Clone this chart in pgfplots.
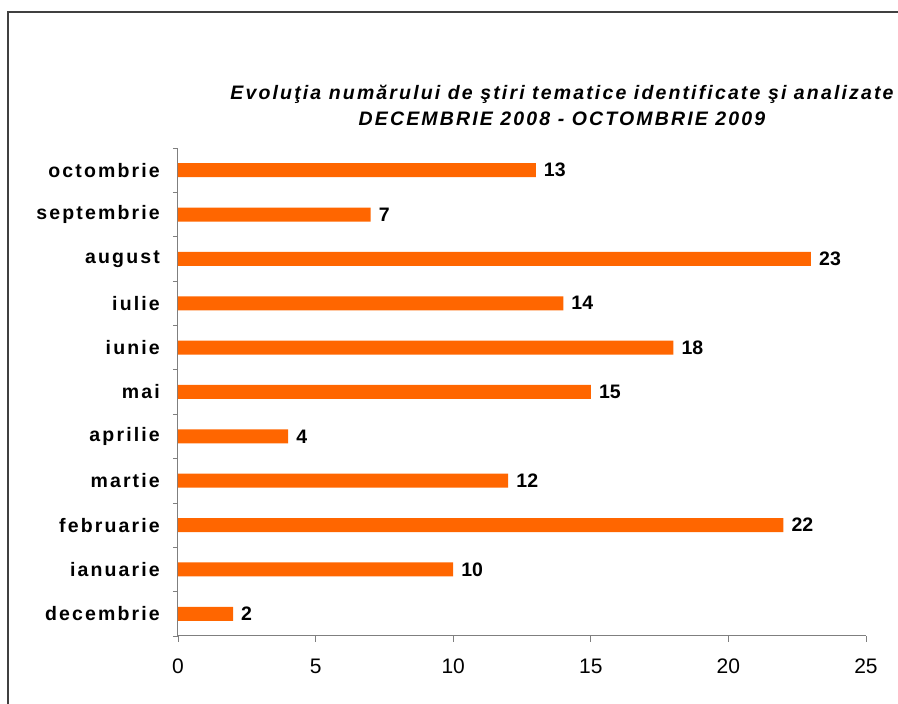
\documentclass[border=0pt]{standalone}
\usepackage{fontspec}
\setmainfont{Liberation Sans}
\newfontfamily\lsp[LetterSpace=11]{Liberation Sans}
\newfontfamily\lspt[LetterSpace=11]{Liberation Sans}
\usepackage{pgfplots}
\pgfplotsset{compat=1.18}
\definecolor{barorange}{HTML}{FF6600}
\definecolor{axgray}{HTML}{7F7F7F}
\begin{document}
\begin{tikzpicture}[x=1pt,y=1pt]
\useasboundingbox (0,0) rectangle (898,704);
\draw[line width=1.5pt, black!75] (8,-5) -- (8,692) -- (905,692);
\node[align=center, font=\lspt\bfseries\itshape\fontsize{19.5}{26}\selectfont] at (562,599) {Evoluţia numărului de ştiri tematice identificate şi analizate\\DECEMBRIE 2008 - OCTOMBRIE 2009};
\begin{axis}[at={(178pt,68pt)}, anchor=south west, scale only axis,
  width=688pt, height=488pt,
  xmin=0, xmax=25, ymin=-0.5, ymax=10.5,
  axis x line*=bottom, axis y line*=left,
  axis line style={-, axgray, line width=1pt},
  xbar, bar width=14pt,
  xtick={0,5,...,25},
  ytick={0,...,10},
  yticklabels={decembrie,ianuarie,februarie,martie,aprilie,mai,iunie,iulie,august,septembrie,octombrie},
  minor ytick={-0.5,0.5,...,10.5},
  tick align=outside,
  major tick length=6pt, minor tick length=5pt,
  ytick style={draw=none},
  minor y tick style={draw=axgray, line width=0.8pt},
  xtick style={axgray, line width=0.8pt},
  yticklabel style={font=\lsp\bfseries\fontsize{19.5}{22}\selectfont, inner sep=0pt, anchor=east, xshift=-12pt},
  xticklabel style={font=\fontsize{21}{24}\selectfont, inner sep=0pt, anchor=north, yshift=-17pt},
  /pgf/number format/assume math mode=true,
  nodes near coords,
  every node near coord/.append style={font=\bfseries\fontsize{19.5}{22}\selectfont, inner sep=0pt, anchor=west, xshift=8pt, black},
  clip=false,
]
\addplot[fill=barorange, draw=none] coordinates {
(2,0) (10,1) (22,2) (12,3) (4,4) (15,5) (18,6) (14,7) (23,8) (7,9) (13,10)};
\end{axis}
\end{tikzpicture}
\end{document}
